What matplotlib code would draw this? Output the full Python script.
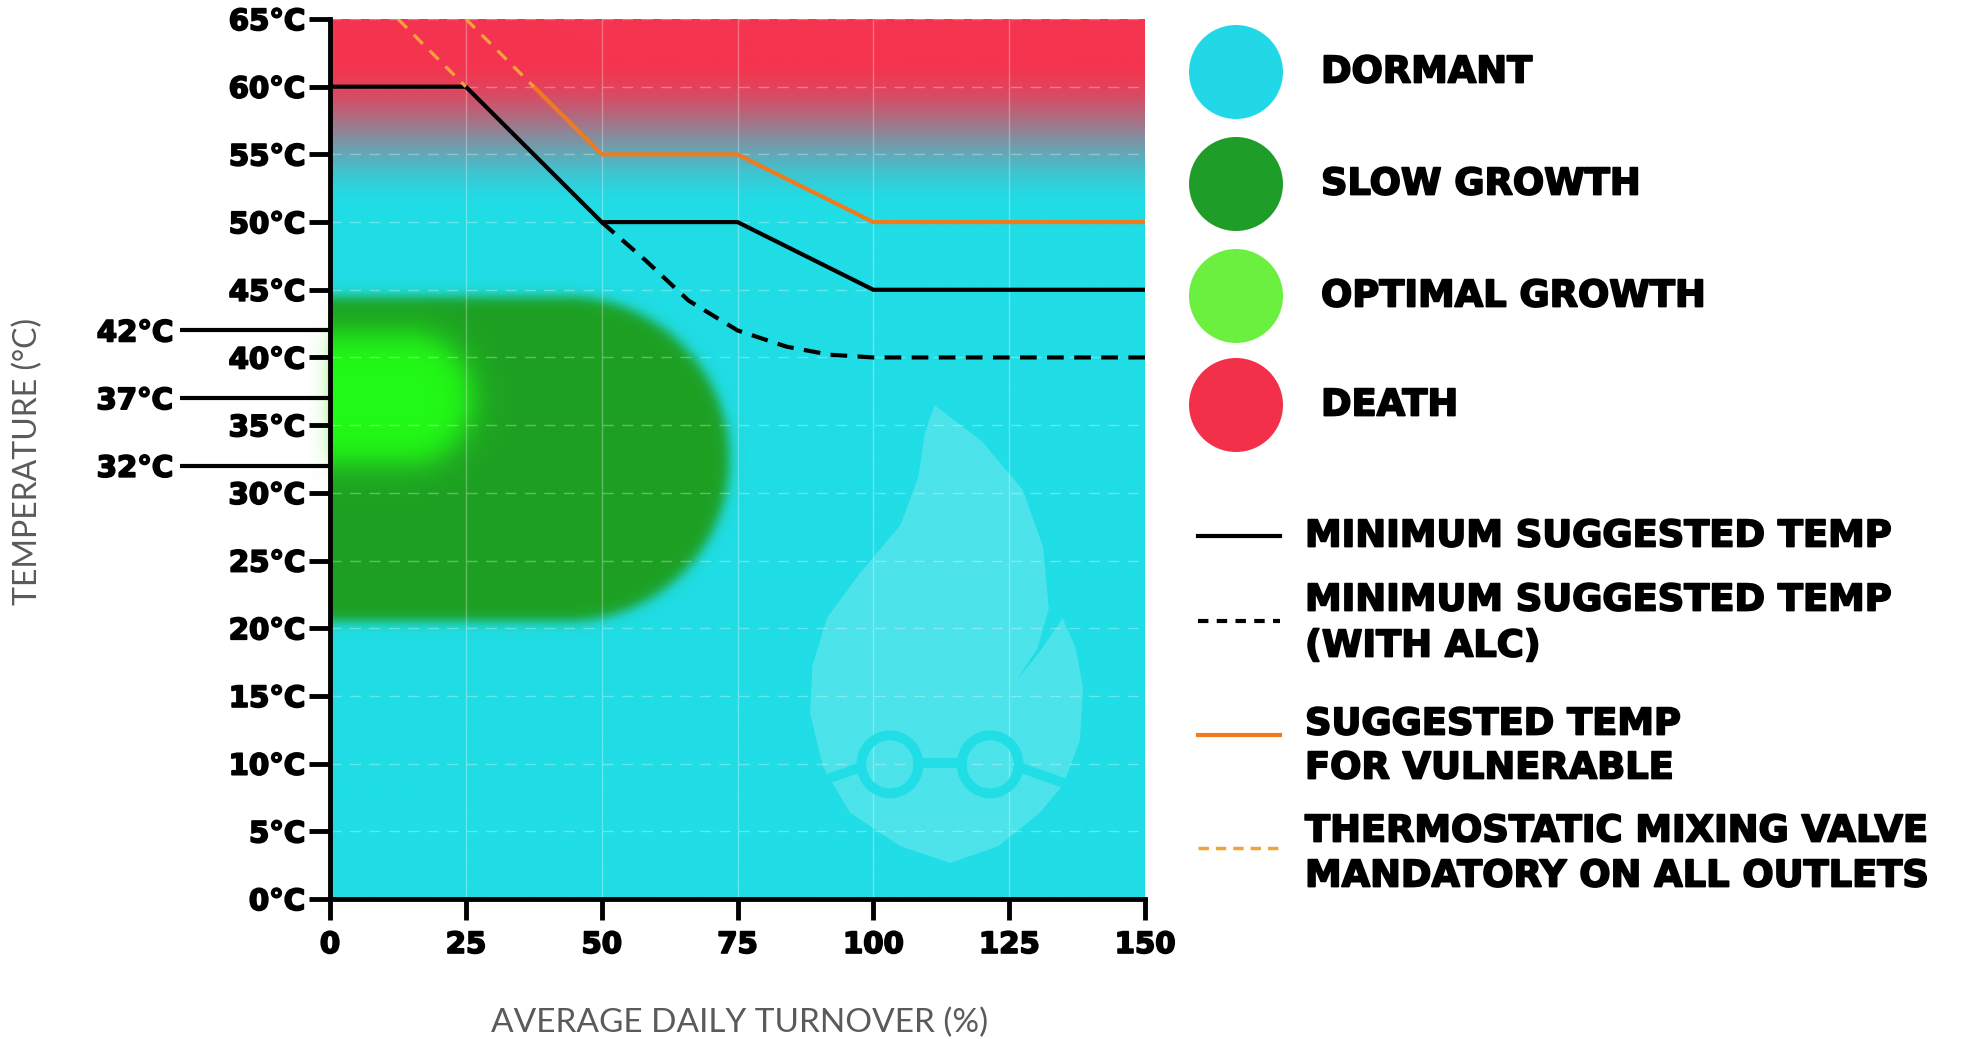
import numpy as np
import matplotlib
matplotlib.use('Agg')
import matplotlib.pyplot as plt
import matplotlib.patheffects as pe
from matplotlib.patches import Ellipse, Polygon
from matplotlib.lines import Line2D
from matplotlib.colors import to_rgb

# ---------------- data ----------------
turnover_min = [0, 25, 50, 75, 100, 150]
temp_min = [60, 60, 50, 50, 45, 45]

turnover_alc = [50, 58, 66, 75, 84, 92, 100, 150]
temp_alc = [50, 47.2, 44.2, 42.0, 40.8, 40.2, 40, 40]

turnover_vuln = [37.5, 50, 75, 100, 150]
temp_vuln = [60, 55, 55, 50, 50]

tmv_seg1_x = [12.5, 25]
tmv_seg1_y = [65, 60]
tmv_seg2_x = [25, 37.5]
tmv_seg2_y = [65, 60]

yticks = list(range(0, 66, 5))
ytick_labels = [f"{t}°C" for t in yticks]
special_temps = [32, 37, 42]
special_labels = [f"{t}°C" for t in special_temps]
xticks = [0, 25, 50, 75, 100, 125, 150]
xtick_labels = [str(v) for v in xticks]

# zones (temperature / turnover limits)
death_solid_from = 62.0
dormant_solid_below = 51.0
slow_low, slow_high = 20.5, 44.5
slow_xmax = 73.5
opt_center, opt_half = 37.0, 4.8
opt_xmax = 26.0

legend_zones = ["DORMANT", "SLOW GROWTH", "OPTIMAL GROWTH", "DEATH"]

# ---------------- style ----------------
C_DORMANT = '#20DDE6'
C_DEATH = '#F5344F'
C_SLOW = '#1DA022'
C_OPT = '#22FA16'
C_LEG = ['#22D8E6', '#1E9E28', '#6CF040', '#F2304A']
C_ORANGE = '#F07A1E'
C_TMV = '#F2A33A'
FONT_B = 'DejaVu Sans'
FONT_L = 'Lato'
HEAVY = [pe.withStroke(linewidth=1.3, foreground='black')]

W, H = 1968, 1039
fig = plt.figure(figsize=(W / 100, H / 100), dpi=100)
ax_l, ax_r, ax_t, ax_b = 330, 1145, 19, 899
ax = fig.add_axes([ax_l / W, 1 - ax_b / H, (ax_r - ax_l) / W, (ax_b - ax_t) / H])
ax.set_xlim(0, 150)
ax.set_ylim(0, 65)

# ---------------- background image ----------------
px_x = (ax_r - ax_l) / 150.0
px_y = (ax_b - ax_t) / 65.0
nx, ny = 900, 700
xs = np.linspace(0, 150, nx)
ys = np.linspace(0, 65, ny)
X, Y = np.meshgrid(xs, ys)

t = np.clip((Y - dormant_solid_below) / (death_solid_from - dormant_solid_below), 0, 1)
t = t * t * (3 - 2 * t)
cd = np.array(to_rgb(C_DORMANT))
cr = np.array(to_rgb(C_DEATH))
img = cd[None, None, :] * (1 - t[..., None]) + cr[None, None, :] * t[..., None]


def capsule_alpha(Xg, Yg, yc, r_deg, xmax, w):
    r_px = r_deg * px_y
    xc = xmax - r_px / px_x
    d_rect = np.abs(Yg - yc) * px_y - r_px
    d_circ = np.hypot((Xg - xc) * px_x, (Yg - yc) * px_y) - r_px
    d = np.where(Xg <= xc, d_rect, d_circ)
    return 1.0 / (1.0 + np.exp(np.clip(d / w, -50, 50)))


a_slow = capsule_alpha(X, Y, (slow_low + slow_high) / 2, (slow_high - slow_low) / 2, slow_xmax, 3.5)
cs = np.array(to_rgb(C_SLOW))
img = img * (1 - a_slow[..., None]) + cs[None, None, :] * a_slow[..., None]
a_opt = capsule_alpha(X, Y, opt_center, opt_half, opt_xmax, 9.0)
co = np.array(to_rgb(C_OPT))
img = img * (1 - a_opt[..., None]) + co[None, None, :] * a_opt[..., None]

ax.imshow(img, extent=[0, 150, 0, 65], origin='lower', aspect='auto',
          interpolation='bilinear', zorder=0)

# faint glow of the optimal zone just left of the axis
gx = np.linspace(-4, 0, 40)
GX, GY = np.meshgrid(gx, ys)
ga = capsule_alpha(np.zeros_like(GX), GY, opt_center, opt_half, opt_xmax, 9.0)
ga = ga * np.exp(GX / 1.2) * 0.45
glow = np.zeros(GX.shape + (4,))
glow[..., :3] = to_rgb('#6CF040')
glow[..., 3] = ga
ax.imshow(glow, extent=[-4, 0, 0, 65], origin='lower', aspect='auto',
          interpolation='bilinear', zorder=0, clip_on=False)
ax.set_xlim(0, 150)

# grid
for xv in xticks[1:-1]:
    ax.axvline(xv, color='white', alpha=0.3, lw=1.0, zorder=1)
for yv in yticks[1:]:
    ax.axhline(yv, color='white', alpha=0.3, lw=1.0, ls=(0, (8, 6)), zorder=1)

# watermark flame (axes fraction)
flame_pts = [(0.742, 0.561), (0.800, 0.520), (0.850, 0.465), (0.875, 0.400),
             (0.882, 0.330), (0.868, 0.285), (0.843, 0.249), (0.870, 0.280),
             (0.899, 0.319), (0.915, 0.285), (0.924, 0.240), (0.920, 0.180),
             (0.900, 0.130), (0.871, 0.098), (0.820, 0.060), (0.761, 0.041),
             (0.700, 0.060), (0.638, 0.098), (0.605, 0.150), (0.589, 0.211),
             (0.592, 0.265), (0.610, 0.320), (0.650, 0.370), (0.700, 0.425),
             (0.722, 0.480), (0.730, 0.530)]
ax.add_patch(Polygon(flame_pts, closed=True, transform=ax.transAxes,
                     facecolor='white', alpha=0.2, edgecolor='none', zorder=1.2))
for cx in (0.687, 0.810):
    ax.add_patch(Ellipse((cx, 0.153), 0.070, 0.066, transform=ax.transAxes,
                         facecolor='none', edgecolor=C_DORMANT, lw=7, zorder=1.3))
ax.plot([0.615, 0.652], [0.138, 0.150], transform=ax.transAxes, color=C_DORMANT, lw=7,
        solid_capstyle='round', zorder=1.3)
ax.plot([0.722, 0.775], [0.155, 0.155], transform=ax.transAxes, color=C_DORMANT, lw=7, zorder=1.3)
ax.plot([0.845, 0.900], [0.150, 0.132], transform=ax.transAxes, color=C_DORMANT, lw=7,
        solid_capstyle='round', zorder=1.3)

# ---------------- lines ----------------
ax.plot(turnover_min, temp_min, color='black', lw=3, zorder=5, solid_joinstyle='miter')
ax.plot(turnover_alc, temp_alc, color='black', lw=3, dashes=(4, 2.5), zorder=5)
ax.plot(turnover_vuln, temp_vuln, color=C_ORANGE, lw=3, zorder=5)
ax.plot(tmv_seg1_x, tmv_seg1_y, color=C_TMV, lw=2.3, dashes=(4, 3), zorder=5)
ax.plot(tmv_seg2_x, tmv_seg2_y, color=C_TMV, lw=2.3, dashes=(4, 3), zorder=5)

# ---------------- axes styling ----------------
for s in ('top', 'right'):
    ax.spines[s].set_visible(False)
for s in ('left', 'bottom'):
    ax.spines[s].set_linewidth(3.5)
    ax.spines[s].set_color('black')
    ax.spines[s].set_zorder(6)

ax.set_yticks(yticks)
ax.set_yticklabels(ytick_labels)
ax.set_yticks(special_temps, minor=True)
ax.set_yticklabels(special_labels, minor=True)
ax.set_xticks(xticks)
ax.set_xticklabels(xtick_labels)
ax.tick_params(axis='y', which='major', length=15, width=3.5, pad=3, labelsize=21)
ax.tick_params(axis='y', which='minor', length=108, width=3, pad=5, labelsize=21)
ax.tick_params(axis='x', which='major', length=15, width=3.5, pad=8, labelsize=21)
for lbl in ax.get_yticklabels() + ax.get_yticklabels(minor=True) + ax.get_xticklabels():
    lbl.set_fontfamily(FONT_B)
    lbl.set_fontweight('bold')
    lbl.set_path_effects(HEAVY)

fig.text(27.6 / W, 1 - 461 / H, "TEMPERATURE (°C)", rotation=90, ha='center', va='center',
         fontsize=23, color='#5a5a5a', family=FONT_L, fontweight='normal')
fig.text(740 / W, 1 - 1023 / H, "AVERAGE DAILY TURNOVER (%)", ha='center', va='center',
         fontsize=24, color='#5a5a5a', family=FONT_L, fontweight='normal')

# ---------------- legend (right) ----------------
circ_y = [72, 184, 296, 405]
for lab, col, yy in zip(legend_zones, C_LEG, circ_y):
    fig.add_artist(Ellipse((1236 / W, 1 - yy / H), 94 / W, 94 / H,
                           transform=fig.transFigure, facecolor=col, edgecolor='none'))
    fig.text(1321 / W, 1 - yy / H, lab, ha='left', va='center', fontsize=26.5,
             family=FONT_B, fontweight='bold', path_effects=HEAVY)

line_entries = [
    (536, dict(color='black', lw=3), [(536, "MINIMUM SUGGESTED TEMP")]),
    (621, dict(color='black', lw=3, dashes=(2.5, 2)), [(600, "MINIMUM SUGGESTED TEMP"), (646, "(WITH ALC)")]),
    (735, dict(color=C_ORANGE, lw=3), [(724, "SUGGESTED TEMP"), (768, "FOR VULNERABLE")]),
    (848, dict(color=C_TMV, lw=2.5, dashes=(3, 2)), [(831, "THERMOSTATIC MIXING VALVE"), (876, "MANDATORY ON ALL OUTLETS")]),
]
for ly, style, texts in line_entries:
    fig.add_artist(Line2D([1198 / W, 1280 / W], [1 - ly / H, 1 - ly / H],
                          transform=fig.transFigure, **style))
    for ty, txt in texts:
        fig.text(1305 / W, 1 - ty / H, txt, ha='left', va='center', fontsize=26.5,
                 family=FONT_B, fontweight='bold', path_effects=HEAVY)

fig.savefig('out.png', dpi=100)
